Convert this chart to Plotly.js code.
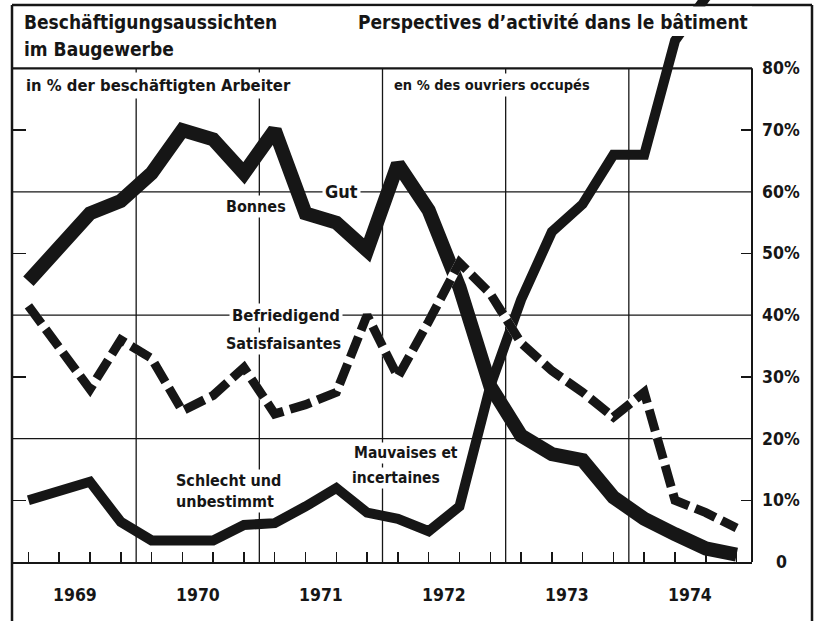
<!DOCTYPE html>
<html>
<head>
<meta charset="utf-8">
<script src="https://cdn.plot.ly/plotly-3.0.1.min.js"></script>
<style>
  html, body { margin: 0; padding: 0; background: #ffffff; }
  #chart { width: 818px; height: 621px; }
</style>
</head>
<body>
<div id="chart"></div>
<script>
// ---- data ----
const quarters = [1969.125, 1969.375, 1969.625, 1969.875,
                  1970.125, 1970.375, 1970.625, 1970.875,
                  1971.125, 1971.375, 1971.625, 1971.875,
                  1972.125, 1972.375, 1972.625, 1972.875,
                  1973.125, 1973.375, 1973.625, 1973.875,
                  1974.125, 1974.375, 1974.625, 1974.875];
const gut = [45.5, 51, 56.5, 58.5, 63, 70, 68.5, 63, 70, 56.5, 55, 50.5,
             64.5, 57, 44.5, 28.5, 20.5, 17.5, 16.5, 10.5, 7, 4.5, 2.2, 1.2];
const befriedigend = [41.5, 35, 28, 36, 33, 24.5, 27, 31.5, 24, 25.5, 27.5, 40,
                      30, 39, 48.5, 43.5, 35.5, 31, 27.5, 23.5, 27.5, 10, 8, 5.5];
const schlecht = [10, 11.5, 13, 6.5, 3.5, 3.5, 3.5, 6, 6.3, 9, 12, 8,
                  7, 5, 9, 28.5, 42.5, 53.5, 58, 66, 66, 84.5, 91.5, 96];
const years = ['1969', '1970', '1971', '1972', '1973', '1974'];
const yearCenters = [1969.5, 1970.5, 1971.5, 1972.5, 1973.5, 1974.5];
const yearBoundaries = [1970, 1971, 1972, 1973, 1974];
const pctValues = [0, 10, 20, 30, 40, 50, 60, 70, 80];
const pctLabels = ['0', '10%', '20%', '30%', '40%', '50%', '60%', '70%', '80%'];
const gridValues = [20, 40, 60];
const minorValues = [10, 30, 50, 70];

// ---- layout helpers (pixel -> paper) ----
const W = 818, H = 621, L = 13, R = 66, T = 0, B = 59;
const PW = W - L - R, PH = H - T - B;
const px = v => (v - L) / PW;
const py = v => (H - B - v) / PH;
const INK = '#161616';
const FONT = "'DejaVu Sans Condensed', 'Liberation Sans Narrow', 'Roboto Condensed', 'Arial Narrow', sans-serif";
const YMAX = 91.08;

const traces = [
  {x: quarters, y: schlecht, mode: 'lines', line: {color: INK, width: 10}, hoverinfo: 'skip'},
  {x: quarters, y: gut, mode: 'lines', line: {color: INK, width: 14}, hoverinfo: 'skip'},
  {x: quarters, y: befriedigend, mode: 'lines', yaxis: 'y2', line: {color: '#ffffff', width: 9}, hoverinfo: 'skip'},
  {x: quarters, y: befriedigend, mode: 'lines', yaxis: 'y2', line: {color: INK, width: 9, dash: '22px,7px'}, hoverinfo: 'skip'}
];

const shapes = [];
const ln = (o) => shapes.push(Object.assign({type: 'line', layer: 'below'}, o));
gridValues.forEach(v => ln({xref: 'paper', yref: 'y', x0: px(12), x1: 1, y0: v, y1: v, line: {color: INK, width: 1.3}}));
yearBoundaries.forEach(v => ln({xref: 'x', yref: 'y', x0: v, x1: v, y0: 0, y1: 80, line: {color: INK, width: 1.3}}));
ln({xref: 'paper', yref: 'y', x0: px(12), x1: 1, y0: 80, y1: 80, line: {color: INK, width: 2.2}});
ln({xref: 'paper', yref: 'y', x0: 1, x1: 1, y0: 0, y1: 80, line: {color: INK, width: 2}});
ln({xref: 'paper', yref: 'paper', x0: px(12), x1: px(812), y0: py(5), y1: py(5), line: {color: INK, width: 2.5}});
ln({xref: 'paper', yref: 'paper', x0: px(12), x1: px(12), y0: py(5), y1: py(625), line: {color: INK, width: 2.5}});
ln({xref: 'paper', yref: 'paper', x0: px(812), x1: px(812), y0: py(5), y1: py(625), line: {color: INK, width: 2.5}});
shapes.push({type: 'rect', layer: 'above', xref: 'paper', yref: 'paper',
             x0: px(350), x1: px(752), y0: py(36), y1: py(6.5), fillcolor: '#ffffff', line: {width: 0}});

const annotations = [];
const txt = (o, size) => annotations.push(Object.assign({showarrow: false,
  font: {family: FONT, size: size || 17, color: INK, weight: 'bold'}}, o));
// titles
txt({xref: 'paper', yref: 'paper', x: px(22), y: py(22), xanchor: 'left', yanchor: 'middle', text: 'Beschäftigungsaussichten'}, 19);
txt({xref: 'paper', yref: 'paper', x: px(22), y: py(49), xanchor: 'left', yanchor: 'middle', text: 'im Baugewerbe'}, 19);
txt({xref: 'paper', yref: 'paper', x: px(356), y: py(22), xanchor: 'left', yanchor: 'middle', text: 'Perspectives d’activité dans le bâtiment'}, 19);
txt({xref: 'paper', yref: 'paper', x: px(22), y: py(85), xanchor: 'left', yanchor: 'middle', bgcolor: '#ffffff', borderpad: 3, text: 'in % der beschäftigten Arbeiter'}, 16.5);
txt({xref: 'paper', yref: 'paper', x: px(390), y: py(85), xanchor: 'left', yanchor: 'middle', bgcolor: '#ffffff', borderpad: 3, text: 'en % des ouvriers occupés'}, 14.5);
// series labels
txt({xref: 'paper', yref: 'y', x: px(341), y: 60, xanchor: 'center', yanchor: 'middle', bgcolor: '#ffffff', borderpad: 2, text: 'Gut'}, 18);
txt({xref: 'paper', yref: 'paper', x: px(288), y: py(206), xanchor: 'right', yanchor: 'middle', bgcolor: '#ffffff', borderpad: 1, text: 'Bonnes'}, 16);
txt({xref: 'paper', yref: 'y', x: px(343), y: 40, xanchor: 'right', yanchor: 'middle', bgcolor: '#ffffff', borderpad: 2, text: 'Befriedigend'}, 16.5);
txt({xref: 'paper', yref: 'paper', x: px(343), y: py(343), xanchor: 'right', yanchor: 'middle', bgcolor: '#ffffff', borderpad: 1, text: 'Satisfaisantes'}, 16);
txt({xref: 'paper', yref: 'paper', x: px(174), y: py(480), xanchor: 'left', yanchor: 'middle', bgcolor: '#ffffff', borderpad: 1, text: 'Schlecht und'}, 16);
txt({xref: 'paper', yref: 'paper', x: px(174), y: py(501), xanchor: 'left', yanchor: 'middle', bgcolor: '#ffffff', borderpad: 1, text: 'unbestimmt'}, 16);
txt({xref: 'paper', yref: 'paper', x: px(352), y: py(453), xanchor: 'left', yanchor: 'middle', bgcolor: '#ffffff', borderpad: 1, text: 'Mauvaises et'}, 15.5);
txt({xref: 'paper', yref: 'paper', x: px(350), y: py(478), xanchor: 'left', yanchor: 'middle', bgcolor: '#ffffff', borderpad: 1, text: 'incertaines'}, 15.5);
// right-hand percentage labels
pctValues.forEach((v, i) => txt({xref: 'paper', yref: 'y', x: px(781), y: v, xanchor: 'center', yanchor: 'middle', text: pctLabels[i]}, 17.5));
// year labels
yearCenters.forEach((v, i) => txt({xref: 'x', yref: 'paper', x: v, y: py(595), xanchor: 'center', yanchor: 'middle', text: years[i]}, 17.5));

const layout = {
  width: W, height: H,
  margin: {l: L, r: R, t: T, b: B, pad: 0},
  paper_bgcolor: '#ffffff', plot_bgcolor: 'rgba(0,0,0,0)',
  showlegend: false,
  xaxis: {range: [1969, 1975], showgrid: false, zeroline: false, showline: true, linecolor: INK, linewidth: 2.2,
          ticks: 'inside', tickvals: quarters, ticklen: 10, tickwidth: 1.5, tickcolor: INK, showticklabels: false, fixedrange: true},
  yaxis: {range: [0, YMAX], showgrid: false, zeroline: false, showline: false,
          ticks: 'inside', tickvals: minorValues, ticklen: 13, tickwidth: 1.5, tickcolor: INK, showticklabels: false, fixedrange: true},
  yaxis2: {range: [0, YMAX], overlaying: 'y', side: 'right', showgrid: false, zeroline: false, showline: false,
           ticks: 'inside', tickvals: minorValues, ticklen: 11, tickwidth: 1.5, tickcolor: INK, showticklabels: false, fixedrange: true},
  shapes: shapes,
  annotations: annotations
};

Plotly.newPlot('chart', traces, layout, {staticPlot: true, displayModeBar: false});
</script>
</body>
</html>
